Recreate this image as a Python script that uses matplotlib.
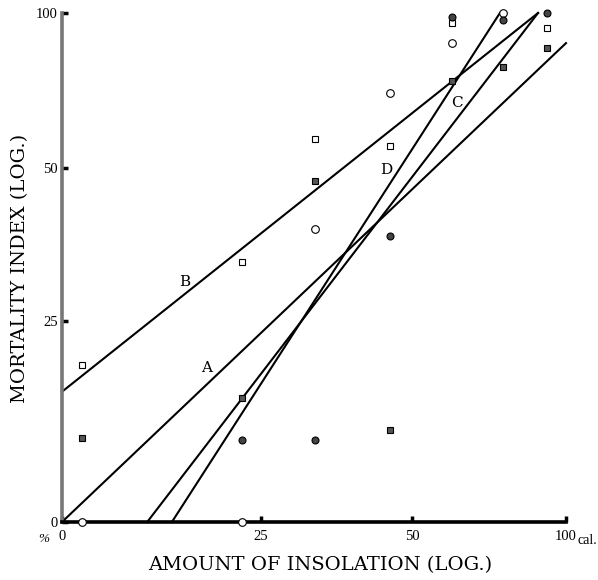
import numpy as np
import matplotlib
matplotlib.use("Agg")
import matplotlib.pyplot as plt

# ---- scale: tick values and their relative positions on the (log-like) axes
tick_vals = [0, 25, 50, 100]
tick_pos = [0.0, 0.395, 0.695, 1.0]

# ---- data, x = insolation, y = mortality index
open_sq_x = [2.5, 22.6, 33.9, 46.3, 62.9, 93.8]
open_sq_y = [19.5, 34.7, 59.4, 57.2, 96.8, 95.2]

fill_sq_x = [2.5, 22.6, 33.9, 46.3, 62.9, 79.5, 93.8]
fill_sq_y = [10.4, 15.4, 47.9, 11.4, 78.1, 82.6, 88.7]

open_ci_x = [2.5, 22.6, 33.9, 46.3, 62.9, 79.5]
open_ci_y = [0.0, 0.0, 40.0, 74.2, 90.3, 100.0]

fill_ci_x = [22.6, 33.9, 46.3, 62.9, 79.5, 93.8]
fill_ci_y = [10.2, 10.2, 38.9, 98.7, 97.6, 100.0]

line_names = ["A", "B", "C", "D"]
line_x = [[0, 100], [0, 90.9], [10.7, 90.9], [13.8, 78.5]]
line_y = [[0, 90.3], [16.2, 100], [0, 100], [0, 100]]

x_tick_labels = ["0", "25", "50", "100"]
y_tick_labels = ["0", "25", "50", "100"]


def fwd(v):
    return np.interp(v, tick_vals, tick_pos, left=-1e-3, right=1.001)


def inv(p):
    return np.interp(p, tick_pos, tick_vals, left=0, right=100)


plt.rcParams["font.family"] = ["DejaVu Serif"]
fig = plt.figure(figsize=(5.98, 5.80), dpi=100)
ax = fig.add_axes([62 / 598, 58 / 580, (566 - 62) / 598, (522 - 13) / 580])
ax.set_xscale("function", functions=(fwd, inv))
ax.set_yscale("function", functions=(fwd, inv))
ax.set_xlim(0, 100)
ax.set_ylim(0, 100)

for xs, ys in zip(line_x, line_y):
    ax.plot(xs, ys, color="black", lw=1.5, clip_on=False, zorder=2)

ms = 5
ax.plot(open_sq_x, open_sq_y, ls="none", marker="s", ms=ms, mfc="white",
        mec="black", mew=0.8, clip_on=False, zorder=3)
ax.plot(fill_sq_x, fill_sq_y, ls="none", marker="s", ms=ms, mfc="#555555",
        mec="black", mew=0.8, clip_on=False, zorder=3)
ax.plot(open_ci_x, open_ci_y, ls="none", marker="o", ms=ms + 0.5, mfc="white",
        mec="black", mew=0.8, clip_on=False, zorder=3)
ax.plot(fill_ci_x, fill_ci_y, ls="none", marker="o", ms=ms, mfc="#444444",
        mec="black", mew=0.8, clip_on=False, zorder=3)

# line labels
lab_pos = {"A": (18.2, 19.2), "B": (15.4, 31.4), "C": (64.5, 71.0), "D": (45.7, 49.7)}
for name in line_names:
    px, py = lab_pos[name]
    ax.text(px, py, name, fontsize=11, ha="center", va="center")

ax.spines["top"].set_visible(False)
ax.spines["right"].set_visible(False)
ax.spines["left"].set_color("#777777")
ax.spines["left"].set_linewidth(2.6)
ax.spines["bottom"].set_color("black")
ax.spines["bottom"].set_linewidth(2.6)

ax.set_xticks(tick_vals)
ax.set_xticklabels(x_tick_labels, fontfamily="Liberation Serif")
ax.set_yticks(tick_vals)
ax.set_yticklabels(y_tick_labels, fontfamily="Liberation Serif")
ax.tick_params(axis="both", direction="in", length=4, width=2.5, color="black",
               labelsize=10.5, pad=6)
ax.tick_params(axis="y", pad=3)
ax.minorticks_off()

ax.text((578 - 62) / 504, -0.024, "cal.", transform=ax.transAxes, fontsize=10,
        ha="left", va="top", fontfamily="Liberation Serif")
ax.text(-0.025, -0.022, "%", transform=ax.transAxes, fontsize=9.5, ha="right",
        va="top", style="italic", fontfamily="Liberation Serif")

fig.text(320 / 598, 1 - 565 / 580, "AMOUNT OF INSOLATION (LOG.)", fontsize=14,
         ha="center", va="center")
fig.text(20 / 598, 1 - 268 / 580, "MORTALITY INDEX (LOG.)", fontsize=14,
         ha="center", va="center", rotation=90)

fig.savefig("out.png", dpi=100)
